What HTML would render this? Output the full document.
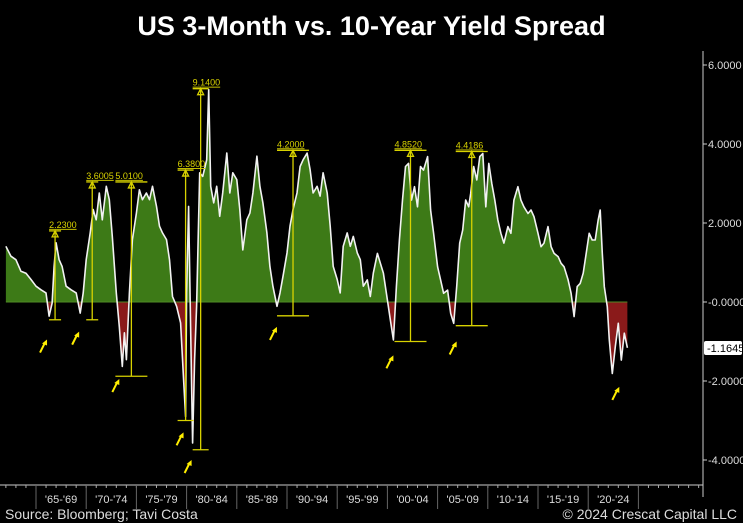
<!DOCTYPE html>
<html><head><meta charset="utf-8"><style>
html,body{margin:0;padding:0;background:#000;}
body{width:743px;height:523px;overflow:hidden;position:relative;font-family:"Liberation Sans",sans-serif;}
#title{position:absolute;left:0;width:743px;top:11px;text-align:center;color:#fff;font-weight:bold;font-size:27px;}
.foot{position:absolute;top:506px;color:#ddd;font-size:14px;}
svg{position:absolute;left:0;top:0;}
</style></head><body>
<div id="title">US 3-Month vs. 10-Year Yield Spread</div>
<div class="foot" style="left:5px">Source: Bloomberg; Tavi Costa</div>
<div class="foot" style="right:6px">© 2024 Crescat Capital LLC</div>
<svg id="chart" width="743" height="523"></svg>
<script>
const years=[1962.0,1962.5,1963.0,1963.5,1964.0,1964.5,1965.0,1965.5,1966.0,1966.3,1966.6,1966.8,1967.0,1967.3,1967.6,1968.0,1968.5,1969.0,1969.4,1969.7,1970.0,1970.4,1970.7,1971.0,1971.3,1971.6,1972.0,1972.3,1972.6,1973.0,1973.3,1973.6,1973.8,1974.0,1974.3,1974.6,1975.0,1975.3,1975.6,1976.0,1976.3,1976.6,1977.0,1977.3,1977.6,1978.0,1978.3,1978.6,1979.0,1979.4,1979.7,1979.9,1980.0,1980.2,1980.4,1980.6,1980.8,1981.0,1981.3,1981.6,1982.0,1982.2,1982.4,1982.7,1983.0,1983.3,1983.6,1984.0,1984.3,1984.6,1985.0,1985.3,1985.6,1986.0,1986.3,1986.6,1987.0,1987.3,1987.6,1988.0,1988.3,1988.6,1989.0,1989.3,1989.6,1990.0,1990.3,1990.6,1991.0,1991.3,1991.6,1992.0,1992.3,1992.6,1993.0,1993.3,1993.6,1994.0,1994.3,1994.6,1995.0,1995.3,1995.6,1996.0,1996.3,1996.6,1997.0,1997.3,1997.6,1998.0,1998.3,1998.6,1999.0,1999.3,1999.6,2000.0,2000.3,2000.6,2000.9,2001.2,2001.5,2001.8,2002.1,2002.4,2002.7,2003.0,2003.3,2003.6,2004.0,2004.3,2004.6,2005.0,2005.3,2005.6,2006.0,2006.3,2006.6,2006.9,2007.2,2007.5,2007.8,2008.1,2008.3,2008.6,2008.9,2009.2,2009.5,2009.8,2010.1,2010.4,2010.7,2011.0,2011.3,2011.6,2012.0,2012.3,2012.6,2013.0,2013.3,2013.6,2014.0,2014.3,2014.6,2015.0,2015.3,2015.6,2016.0,2016.3,2016.6,2017.0,2017.3,2017.6,2018.0,2018.3,2018.6,2018.9,2019.2,2019.5,2019.8,2020.1,2020.4,2020.7,2021.0,2021.2,2021.4,2021.6,2021.9,2022.1,2022.4,2022.7,2023.0,2023.3,2023.6,2023.9];
const spread=[1.41,1.16,1.07,0.78,0.73,0.57,0.4,0.31,0.23,-0.36,-0.03,0.9,1.5,1.07,0.9,0.4,0.31,0.23,-0.28,0.23,1.07,1.75,2.34,2.08,2.76,2.08,2.93,2.59,1.66,0.23,-0.62,-1.63,-0.78,-1.46,0.23,1.58,2.25,2.84,2.59,2.76,2.59,2.93,2.42,1.92,1.75,1.58,1.07,0.14,-0.11,-0.53,-1.97,-2.9,0.23,2.42,-0.62,-3.57,-1.46,-0.11,3.27,3.18,3.6,5.38,2.93,2.51,2.93,2.17,2.76,3.77,2.76,3.27,3.1,2.34,1.32,2.08,2.25,2.76,3.69,2.93,2.51,1.75,0.9,0.4,-0.11,0.23,0.65,1.24,1.92,2.34,2.76,3.43,3.6,3.77,3.35,2.76,2.93,2.68,3.27,2.76,1.92,0.9,0.57,0.23,1.41,1.75,1.41,1.66,1.24,1.07,0.4,0.56,0.14,0.73,1.23,0.98,0.73,0.05,-0.46,-0.96,0.39,1.57,2.58,3.43,3.51,2.58,2.92,2.41,3.43,3.34,3.68,2.33,1.74,0.89,0.56,0.22,0.3,-0.29,-0.54,0.39,1.49,1.82,2.58,2.41,2.75,3.43,3.09,3.68,3.76,2.41,3.51,3.0,2.58,2.08,1.74,1.49,1.91,1.74,2.58,2.92,2.58,2.41,2.24,2.33,2.16,1.74,1.4,1.49,1.91,1.4,1.23,1.15,0.98,0.89,0.56,0.22,-0.37,0.39,0.47,0.73,1.23,1.74,1.57,1.57,2.08,2.33,1.23,0.39,-0.12,-0.96,-1.81,-1.13,-0.54,-1.47,-0.79,-1.16];
const yTicks=[6,4,2,0,-2,-4];
const yTickLabels=["6.0000","4.0000","2.0000","-0.0000","-2.0000","-4.0000"];
const periodLabels=["'65-'69","'70-'74","'75-'79","'80-'84","'85-'89","'90-'94","'95-'99","'00-'04","'05-'09","'10-'14","'15-'19","'20-'24"];
const periodStarts=[1965,1970,1975,1980,1985,1990,1995,2000,2005,2010,2015,2020];
const peakLabels=["2.2300","3.6005","5.0100","6.3800","9.1400","4.2000","4.8520","4.4186"];
const peakYears=[1966.9,1970.6,1974.5,1979.9,1981.4,1990.6,2002.3,2008.4];
const peakTops=[1.8,3.04,3.04,3.34,5.4,3.84,3.84,3.81];
const peakBottoms=[-0.45,-0.45,-1.88,-3.0,-3.74,-0.35,-1.0,-0.6];
const lowYears=[1965.8,1969.0,1973.0,1979.4,1980.2,1988.7,2000.3,2006.6,2022.8];
const lowValues=[-0.95,-0.75,-1.95,-3.3,-4.0,-0.63,-1.35,-1.0,-2.15];
const lastValue=-1.1645;

const NS="http://www.w3.org/2000/svg";
const svg=document.getElementById('chart');
const X=yr=>36+(yr-1965)*10.04;
const Y=v=>302-v*39.5;
function mk(tag,attrs,parent){const e=document.createElementNS(NS,tag);for(const k in attrs)e.setAttribute(k,attrs[k]);(parent||svg).appendChild(e);return e;}

const defs=mk('defs',{});
const cpA=mk('clipPath',{id:'above'},defs);mk('rect',{x:0,y:0,width:743,height:Y(0)},cpA);
const cpB=mk('clipPath',{id:'below'},defs);mk('rect',{x:0,y:Y(0),width:743,height:300},cpB);

let d='M'+X(years[0])+','+Y(0);
years.forEach((yr,i)=>{d+=' L'+X(yr).toFixed(1)+','+Y(spread[i]).toFixed(1);});
d+=' L'+X(years[years.length-1])+','+Y(0)+' Z';
const ga=mk('path',{d:d,fill:'#3d7a17','clip-path':'url(#above)'});


const gb=mk('path',{d:d,fill:'#8a1a1a','clip-path':'url(#below)'});


const zl=mk('line',{x1:X(years[0]),x2:X(years[years.length-1]),y1:Y(0),y2:Y(0),stroke:'#4f8a25','stroke-width':1});


let ld='';
years.forEach((yr,i)=>{ld+=(i?' L':'M')+X(yr).toFixed(1)+','+Y(spread[i]).toFixed(1);});
const line=mk('path',{d:ld,fill:'none',stroke:'#f2f2f2','stroke-width':1.6,'stroke-linejoin':'round'});



peakYears.forEach((yr,i)=>{
  const g=mk('g',{stroke:'#d8d200','stroke-width':1.3,fill:'none'});
  
  
  const x=X(yr),yt=Y(peakTops[i]),yb=Y(peakBottoms[i]),w=i<2?6:(i==3||i==4?8:16);
  mk('line',{x1:x,x2:x,y1:yt,y2:yb},g);
  mk('line',{x1:x-w,x2:x+w,y1:yt,y2:yt},g);
  mk('line',{x1:x-w,x2:x+w,y1:yb,y2:yb},g);
  mk('path',{d:`M${x-3},${yt+6} L${x},${yt} L${x+3},${yt+6} Z`},g);
  const t=mk('text',{x:x-w,y:yt-3,fill:'#d8d200',stroke:'none','font-size':9,'font-family':'Liberation Sans, sans-serif','text-decoration':'underline'},g);
  t.textContent=peakLabels[i];
});
lowYears.forEach((yr,i)=>{
  const g=mk('g',{stroke:'#ffee00','stroke-width':2,fill:'#ffee00'});
  
  
  const x=X(yr),y=Y(lowValues[i]);
  mk('line',{x1:x-4,y1:y+13,x2:x+1,y2:y+3},g);
  mk('path',{d:`M${x+3},${y} L${x-2},${y+4} L${x+3},${y+6} Z`,stroke:'none'},g);
});

const ax=mk('line',{x1:703,x2:703,y1:51,y2:497,stroke:'#ccc','stroke-width':1});


yTicks.forEach((v,i)=>{
  mk('line',{x1:703,x2:707,y1:Y(v),y2:Y(v),stroke:'#ccc'});
  const t=mk('text',{x:708,y:Y(v)+4,fill:'#ddd','font-size':11,'font-family':'Liberation Sans Narrow, Liberation Sans, sans-serif'});
  
  
  t.textContent=yTickLabels[i];
});
const lb=mk('rect',{x:704,y:Y(lastValue)-7,width:38,height:14,fill:'#fff',rx:2});


const lt=mk('text',{x:707,y:Y(lastValue)+4,fill:'#000','font-size':11,'font-family':'Liberation Sans Narrow, Liberation Sans, sans-serif'});


lt.textContent=lastValue.toFixed(4);

const xa=mk('line',{x1:0,x2:703,y1:485,y2:485,stroke:'#ccc'});


for(let yr=1962;yr<=2031;yr++){mk('line',{x1:X(yr),x2:X(yr),y1:485,y2:488,stroke:'#aaa'});}
periodStarts.forEach((yr,i)=>{
  mk('line',{x1:X(yr),x2:X(yr),y1:485,y2:509,stroke:'#666'});
  const t=mk('text',{x:X(yr+2.5),y:503,fill:'#ddd','font-size':11,'text-anchor':'middle','font-family':'Liberation Sans Narrow, Liberation Sans, sans-serif'});
  
  
  t.textContent=periodLabels[i];
});
mk('line',{x1:X(2025),x2:X(2025),y1:485,y2:509,stroke:'#666'});
</script>
</body></html>
